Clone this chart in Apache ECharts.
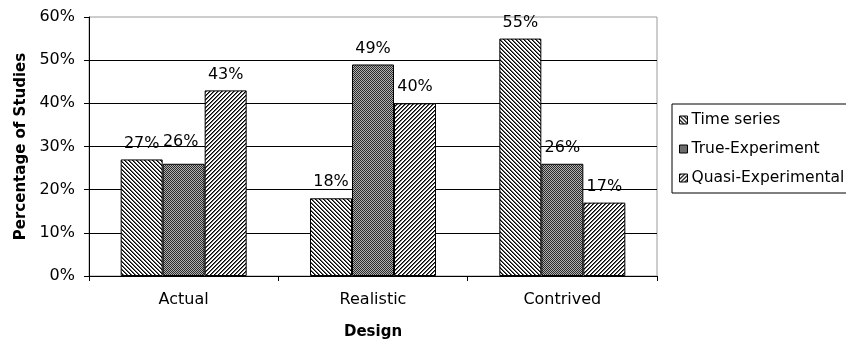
<!DOCTYPE html>
<html>
<head>
<meta charset="utf-8">
<script src="https://cdn.jsdelivr.net/npm/echarts@6/dist/echarts.min.js"></script>
<style>
  html, body { margin: 0; padding: 0; background: #fff; }
  #chart { width: 846px; height: 345px; }
</style>
</head>
<body>
<div id="chart"></div>
<script>
// Study designs and the share of studies (percent) per research method
const categories = ['Actual', 'Realistic', 'Contrived'];
const seriesNames = ['Time series', 'True-Experiment', 'Quasi-Experimental'];
const timeSeries = [27, 18, 55];
const trueExperiment = [26, 49, 26];
const quasiExperimental = [43, 40, 17];
const yTicks = [0, 10, 20, 30, 40, 50, 60];

const FONT = 'DejaVu Sans';

// Small repeating fill tiles drawn on canvases
function makeTile(size, painter) {
  const c = document.createElement('canvas');
  c.width = size; c.height = size;
  const g = c.getContext('2d');
  g.fillStyle = '#fff';
  g.fillRect(0, 0, size, size);
  for (let y = 0; y < size; y++) {
    for (let x = 0; x < size; x++) {
      const col = painter(x, y);
      if (col) { g.fillStyle = col; g.fillRect(x, y, 1, 1); }
    }
  }
  return { image: c, repeat: 'repeat' };
}
// downward diagonal stripes ( \\\ )
const downDiag = makeTile(8, (x, y) => {
  const d = ((x - y) % 4 + 4) % 4;
  return d === 0 ? '#000' : d === 1 ? '#666' : null;
});
// fine dark checker
const checker = makeTile(8, (x, y) => ((x + y) % 2 === 0 ? '#2a2a2a' : '#b0b0b0'));
// upward diagonal stripes ( /// )
const upDiag = makeTile(8, (x, y) => {
  const d = (x + y) % 4;
  return d === 0 ? '#000' : d === 1 ? '#666' : null;
});

const fills = [downDiag, checker, upDiag];
const values = [timeSeries, trueExperiment, quasiExperimental];

// one label sits a little higher to clear its neighbour
const labelNudge = { '1-0': [-3, -6] };

const chart = echarts.init(document.getElementById('chart'), null, { renderer: 'canvas' });

const series = seriesNames.map((name, si) => ({
  name: name,
  type: 'bar',
  barWidth: 42,
  barGap: '0%',
  itemStyle: { color: fills[si], borderColor: '#000', borderWidth: 1 },
  label: {
    show: true,
    position: 'top',
    distance: 8,
    formatter: '{c}%',
    fontFamily: FONT,
    fontSize: 16,
    color: '#000'
  },
  data: values[si].map((v, ci) => {
    const nudge = labelNudge[si + '-' + ci];
    return nudge ? { value: v, label: { offset: nudge } } : v;
  })
}));

chart.setOption({
  animation: false,
  backgroundColor: '#fff',
  grid: {
    left: 89, right: 189, top: 17, bottom: 68,
    show: true, borderColor: '#9a9a9a', borderWidth: 1, backgroundColor: 'transparent'
  },
  legend: {
    orient: 'vertical',
    left: 672,
    top: 104,
    data: seriesNames,
    icon: 'rect',
    itemWidth: 8,
    itemHeight: 8,
    itemGap: 13,
    padding: [8, 40, 7, 7],
    borderColor: '#000',
    borderWidth: 1,
    textStyle: { fontFamily: FONT, fontSize: 15.5, color: '#000', padding: [0, 0, 0, -1] },
    itemStyle: { borderColor: '#000', borderWidth: 1 }
  },
  xAxis: {
    type: 'category',
    data: categories,
    name: 'Design',
    nameLocation: 'middle',
    nameGap: 49,
    nameTextStyle: { fontFamily: FONT, fontSize: 15, fontWeight: 'bold', color: '#000' },
    axisLine: { lineStyle: { color: '#000', width: 1 } },
    axisTick: { show: true, length: 5, alignWithLabel: false, lineStyle: { color: '#000' } },
    axisLabel: { margin: 16, fontFamily: FONT, fontSize: 16, color: '#000' },
    splitLine: { show: false }
  },
  yAxis: {
    type: 'value',
    min: yTicks[0],
    max: yTicks[yTicks.length - 1],
    interval: yTicks[1] - yTicks[0],
    name: 'Percentage of Studies',
    nameLocation: 'middle',
    nameGap: 60,
    nameTextStyle: { fontFamily: FONT, fontSize: 15, fontWeight: 'bold', color: '#000' },
    axisLine: { show: true, lineStyle: { color: '#000', width: 1 } },
    axisTick: { show: true, length: 5, lineStyle: { color: '#000' } },
    axisLabel: { margin: 14, fontFamily: FONT, fontSize: 16, color: '#000', formatter: '{value}%' },
    splitLine: { show: true, showMaxLine: false, lineStyle: { color: '#000', width: 1 } }
  },
  series: series
});
</script>
</body>
</html>
